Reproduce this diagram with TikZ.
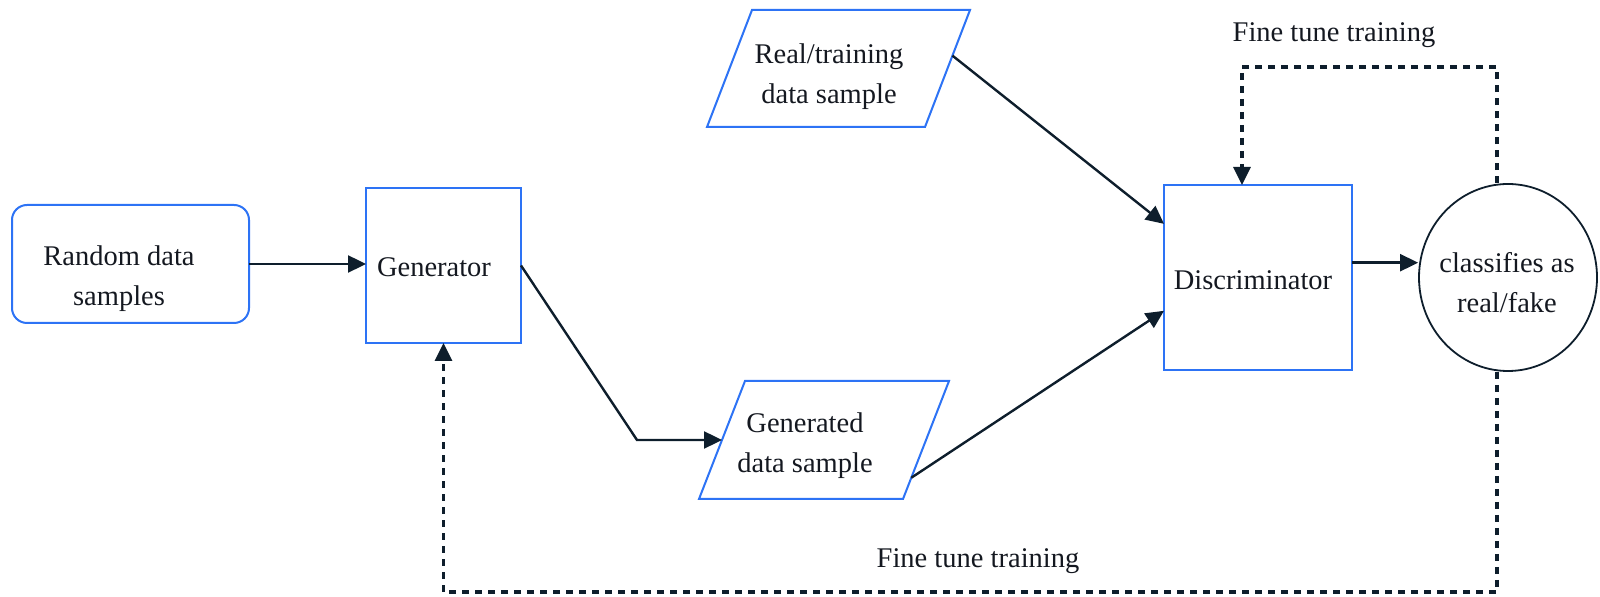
\documentclass[tikz,border=0pt]{standalone}
\usepackage{fontspec}
\setmainfont{Liberation Serif}
\usetikzlibrary{arrows.meta,shapes.geometric,calc}
\definecolor{boxblue}{RGB}{45,115,245}
\definecolor{ink}{RGB}{14,30,44}
\definecolor{txt}{RGB}{20,24,32}
\begin{document}
\begin{tikzpicture}[x=0.5pt,y=-0.5pt,
  blk/.style={draw=boxblue, line width=1pt, inner sep=0pt, outer sep=0pt},
  lbl/.style={text=txt, align=center, inner sep=0pt,
    font=\fontsize{14.25pt}{20pt}\selectfont},
  flow/.style={draw=ink, line width=1.2pt, -{Triangle[length=9pt,width=8.5pt]}},
  fb/.style={draw=ink, line width=1.6pt, dash pattern=on 3.5pt off 3pt,
    -{Triangle[length=9pt,width=8.5pt]}}]
\useasboundingbox (0,0) rectangle (1600,597);

% boxes
\node[blk, rounded corners=7.5pt, minimum width=118.5pt, minimum height=59pt] (rnd) at (130.5,264) {};
\node[blk, minimum width=77.5pt, minimum height=77.5pt] (gnr) at (443.5,265.5) {};
\node[blk, minimum width=94pt, minimum height=92.5pt] (disc) at (1258,277.5) {};
\node[draw=ink, line width=0.9pt, ellipse, inner sep=0pt, minimum width=89pt, minimum height=93.5pt] (cls) at (1508,277.5) {};

% parallelogram corners
\coordinate (rtl) at (752,10);  \coordinate (rtr) at (970,10);
\coordinate (rbr) at (925,127); \coordinate (rbl) at (707,127);
\coordinate (gtl) at (745,381); \coordinate (gtr) at (949,381);
\coordinate (gbr) at (903,499); \coordinate (gbl) at (699,499);
\draw[blk] (rtl) -- (rtr) -- (rbr) -- (rbl) -- cycle;
\draw[blk] (gtl) -- (gtr) -- (gbr) -- (gbl) -- cycle;

% texts
\node[lbl] (rndt) at (119,279) {Random data\\samples};
\node[lbl] (gnrt) at (434,267) {Generator};
\node[lbl] (realt) at (829,77) {Real/training\\data sample};
\node[lbl] (gent) at (805,446) {Generated\\data sample};
\node[lbl] (disct) at (1253,280) {Discriminator};
\node[lbl] (clst) at (1507,283) {classifies as\\real/fake};
\node[lbl] (ft1) at (1334,35) {Fine tune training};
\node[lbl] (ft2) at (978,561) {Fine tune training};

% solid connectors
\draw[flow] (rnd.east) -- (rnd.east -| gnr.west);
\coordinate (bend) at (637,440);
\draw[flow] (gnr.east) -- (bend) -- ($(gtl)!0.5!(gbl)$);
\coordinate (dinA) at ($(disc.north west)!0.21!(disc.south west)$);
\coordinate (dinB) at ($(disc.north west)!0.68!(disc.south west)$);
\draw[flow] ($(rtr)!0.39!(rbr)$) -- (dinA);
\draw[flow] ($(gtr)!0.82!(gbr)$) -- (dinB);
\coordinate (dout) at ($(disc.north east)!0.42!(disc.south east)$);
\draw[flow] (dout) -- (dout -| cls.west);

% feedback loops
\coordinate (tr) at (1497,67);
\coordinate (tl) at (1242,67);
\draw[fb] (tr |- cls.north) -- (tr) -- (tl) -- (tl |- disc.north);
\coordinate (br) at (1497,592);
\coordinate (bl) at (443.5,592);
\draw[fb] (br |- cls.south) -- (br) -- (bl) -- (gnr.south);
\end{tikzpicture}
\end{document}
